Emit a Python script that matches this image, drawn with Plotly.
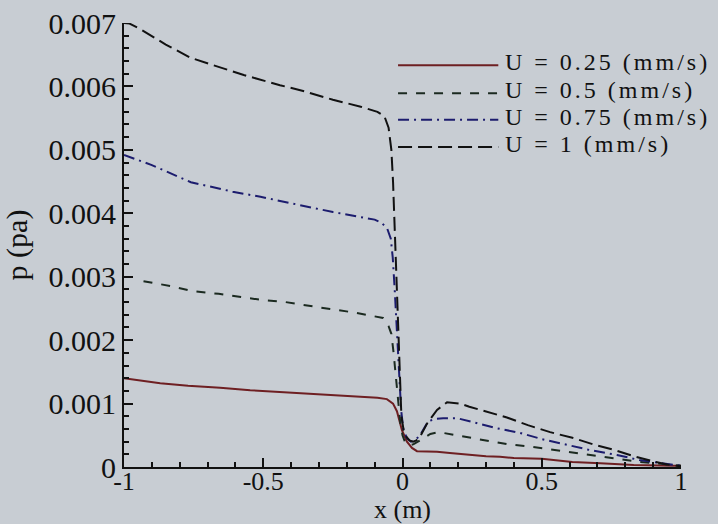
import plotly.graph_objects as go

# ---- data ----
x_u025 = [-1, -0.94, -0.87, -0.77, -0.655, -0.547, -0.43, -0.31, -0.2, -0.09, -0.056, -0.034, -0.02,
          -0.002, 0.016, 0.034, 0.052, 0.124, 0.17, 0.24, 0.3, 0.35, 0.4, 0.5, 0.61, 0.71, 0.83, 0.97, 1.0]
p_u025 = [0.00140, 0.00136, 0.00132, 0.00128, 0.00125, 0.00121, 0.00118, 0.00115, 0.00111, 0.00109,
          0.00107, 0.00100, 0.00088, 0.00058, 0.00040, 0.00030, 0.00025, 0.00024, 0.00022, 0.00019,
          0.00017, 0.00016, 0.00014, 0.00013, 0.00008, 0.00006, 0.00003, 0.00002, 0.00002]

x_u05 = [-0.93, -0.83, -0.75, -0.66, -0.58, -0.5, -0.42, -0.34, -0.26, -0.18, -0.1, -0.07, -0.05, -0.04,
         -0.032, -0.024, -0.016, -0.008, 0.0, 0.01, 0.025, 0.04, 0.06, 0.08, 0.1, 0.13, 0.17, 0.21, 0.29,
         0.375, 0.46, 0.54, 0.63, 0.7, 0.78, 0.85, 0.93, 1.0]
p_u05 = [0.00293, 0.00285, 0.00277, 0.00273, 0.00268, 0.00263, 0.00260, 0.00254, 0.00249, 0.00244,
         0.00238, 0.00235, 0.00222, 0.00210, 0.0018, 0.0014, 0.0011, 0.0007, 0.0005, 0.00038, 0.00034,
         0.00036, 0.00041, 0.00047, 0.00052, 0.00055, 0.00052, 0.00048, 0.00043, 0.00036, 0.00032,
         0.00027, 0.00022, 0.00017, 0.00012, 0.00008, 0.00005, 0.00002]

x_u075 = [-1, -0.9, -0.76, -0.61, -0.51, -0.37, -0.25, -0.15, -0.1, -0.075, -0.055, -0.042, -0.035,
          -0.028, -0.02, -0.012, -0.005, 0.003, 0.015, 0.03, 0.045, 0.063, 0.092, 0.12, 0.146, 0.196,
          0.253, 0.3, 0.34, 0.42, 0.5, 0.59, 0.67, 0.77, 0.85, 0.93, 1.0]
p_u075 = [0.00492, 0.00476, 0.00449, 0.00434, 0.00426, 0.00413, 0.00402, 0.00394, 0.00390, 0.00385,
          0.00376, 0.0036, 0.0033, 0.0028, 0.0022, 0.0015, 0.0009, 0.0006, 0.00046, 0.0004, 0.00042,
          0.0005, 0.00072, 0.00076, 0.00077, 0.00077, 0.00071, 0.00066, 0.00061, 0.00054, 0.00044,
          0.00035, 0.00027, 0.00019, 0.00011, 0.00006, 0.00002]

x_u1 = [-1, -0.98, -0.94, -0.85, -0.76, -0.65, -0.57, -0.44, -0.35, -0.25, -0.15, -0.09, -0.065, -0.05,
        -0.04, -0.034, -0.028, -0.022, -0.016, -0.01, -0.004, 0.004, 0.015, 0.025, 0.038, 0.05, 0.063,
        0.09, 0.124, 0.16, 0.207, 0.24, 0.28, 0.314, 0.375, 0.45, 0.53, 0.61, 0.69, 0.76, 0.83, 0.9,
        0.95, 1.0]
p_u1 = [0.00700, 0.00699, 0.00690, 0.00666, 0.00645, 0.00630, 0.00618, 0.00602, 0.00592, 0.00579,
        0.00568, 0.00560, 0.00553, 0.00535, 0.0050, 0.0045, 0.0038, 0.0030, 0.0022, 0.0014, 0.0008,
        0.00058, 0.00047, 0.00042, 0.00040, 0.00042, 0.00048, 0.00070, 0.00090, 0.00102, 0.00100,
        0.00095, 0.00090, 0.00086, 0.00078, 0.00066, 0.00055, 0.00046, 0.00035, 0.00027, 0.00017,
        0.00009, 0.00004, 0.00001]

series_names = ["U = 0.25 (mm/s)", "U = 0.5 (mm/s)", "U = 0.75 (mm/s)", "U = 1 (mm/s)"]
series_colors = ["#6e1f22", "#1b2a20", "#1c1c6e", "#111111"]
series_dashes = ["solid", "9px,9px", "11px,5px,2px,5px", "14px,6px"]

y_tickvals = [0, 0.001, 0.002, 0.003, 0.004, 0.005, 0.006, 0.007]
y_ticktext = ["0", "0.001", "0.002", "0.003", "0.004", "0.005", "0.006", "0.007"]
x_tickvals = [-1, -0.5, 0, 0.5, 1]
x_ticktext = ["-1", "-0.5", "0", "0.5", "1"]

FONT = "Liberation Serif, Times New Roman, serif"
BG = "#c8cdd3"

fig = go.Figure()
all_x = [x_u025, x_u05, x_u075, x_u1]
all_p = [p_u025, p_u05, p_u075, p_u1]
for xs, ps, name, col, dash in zip(all_x, all_p, series_names, series_colors, series_dashes):
    fig.add_trace(go.Scatter(x=xs, y=ps, mode="lines", name=name, showlegend=False,
                             line=dict(color=col, width=2, dash=dash)))

# legend drawn as line samples + text (compact spacing like the original)
leg_line_y = [0.905, 0.842, 0.782, 0.721]
leg_text_y = [0.912, 0.849, 0.788, 0.727]
for i, (name, col, dash) in enumerate(zip(series_names, series_colors, series_dashes)):
    fig.add_shape(type="line", xref="paper", yref="paper", x0=0.492, x1=0.672,
                  y0=leg_line_y[i], y1=leg_line_y[i], line=dict(color=col, width=2, dash=dash))
    fig.add_annotation(xref="paper", yref="paper", x=0.683, y=leg_text_y[i],
                       text='<span style="letter-spacing:3px">%s</span>' % name,
                       showarrow=False, xanchor="left", yanchor="middle", borderpad=0,
                       font=dict(family=FONT, size=24, color="#111111"))

axis_common = dict(showline=True, linewidth=2, linecolor="#111111", showgrid=False, zeroline=False,
                   ticks="inside", ticklen=9, tickwidth=2, tickcolor="#111111", mirror=False)

fig.update_xaxes(range=[-1, 1], tickvals=x_tickvals, ticktext=x_ticktext,
                 tickfont=dict(family=FONT, size=26, color="#111111"),
                 ticklabelstandoff=-10,
                 minor=dict(ticks="inside", dtick=0.1, tick0=0, ticklen=5, tickwidth=2,
                            tickcolor="#111111"),
                 title=dict(text="x (m)", font=dict(family=FONT, size=26, color="#111111"), standoff=4),
                 **axis_common)
fig.update_yaxes(range=[0, 0.007], tickvals=y_tickvals, ticktext=y_ticktext,
                 tickfont=dict(family=FONT, size=30, color="#111111"),
                 minor=dict(ticks="inside", dtick=0.0002, tick0=0, ticklen=5, tickwidth=2,
                            tickcolor="#111111"),
                 title=dict(text="p (pa)", font=dict(family=FONT, size=30, color="#111111"), standoff=22),
                 **axis_common)

fig.update_layout(width=718, height=524, margin=dict(l=124, r=37, t=23, b=57, autoexpand=False),
                  plot_bgcolor=BG, paper_bgcolor=BG, showlegend=False)

fig.write_html("out.html", config={"displayModeBar": False},
               post_script="document.body.style.margin='0';document.body.style.background='%s';" % BG)
